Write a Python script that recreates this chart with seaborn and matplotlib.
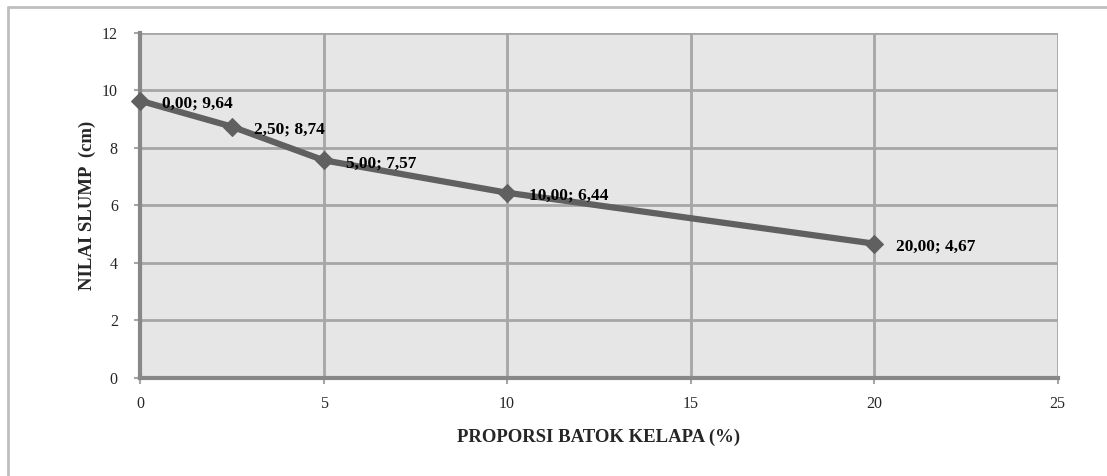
import pandas as pd
import matplotlib
matplotlib.use("Agg")
import matplotlib.pyplot as plt
import seaborn as sns

# ── data ────────────────────────────────────────────────
proporsi = [0.0, 2.5, 5.0, 10.0, 20.0]
slump = [9.64, 8.74, 7.57, 6.44, 4.67]
x_ticks = [0, 5, 10, 15, 20, 25]
y_ticks = [0, 2, 4, 6, 8, 10, 12]

df = pd.DataFrame({'proporsi': proporsi, 'slump': slump})

sns.set_theme(style="white")
plt.rcParams['font.family'] = ['Liberation Serif', 'DejaVu Serif']

fig = plt.figure(figsize=(11.07, 4.76), dpi=100)
ax = fig.add_axes([0.1265, 0.206, 0.829, 0.725])
ax.set_facecolor('#e6e6e6')

sns.lineplot(data=df, x='proporsi', y='slump', ax=ax, color='#606060',
             linewidth=4.5, marker='D', markersize=9, markeredgecolor='#606060',
             zorder=5, clip_on=False)

for x, y in zip(proporsi, slump):
    lbl = f"{x:.2f}; {y:.2f}".replace('.', ',')
    ax.annotate(lbl, (x, y), xytext=(22, -3), textcoords='offset pixels',
                ha='left', va='center', fontsize=12.5, fontweight='bold',
                color='black', zorder=6)

ax.set_xlim(0, 25)
ax.set_ylim(0, 12)
ax.set_xticks(x_ticks)
ax.set_yticks(y_ticks)
ax.grid(True, color='#a6a6a6', linewidth=2)
ax.set_axisbelow(True)
ax.tick_params(axis='both', labelsize=11.5, length=4, color='#a6a6a6',
               direction='out', width=1.5, left=True, bottom=True)
ax.tick_params(axis='y', pad=12)
ax.tick_params(axis='x', pad=9)

for side in ['left', 'bottom']:
    ax.spines[side].set_color('#888888')
    ax.spines[side].set_linewidth(3)
for side in ['top', 'right']:
    ax.spines[side].set_visible(False)

ax.set_xlabel("PROPORSI BATOK KELAPA (%)", fontsize=13.5, fontweight='bold', labelpad=12)
ax.set_ylabel("NILAI SLUMP  (cm)", fontsize=13.5, fontweight='bold', labelpad=4)

# outer chart border (top and left visible)
fig.add_artist(plt.Line2D([0.007, 1.0], [0.985, 0.985], color='#bfbfbf', linewidth=2,
                          transform=fig.transFigure))
fig.add_artist(plt.Line2D([0.007, 0.007], [0.0, 0.985], color='#bfbfbf', linewidth=2,
                          transform=fig.transFigure))

plt.savefig("out.png", dpi=100)
